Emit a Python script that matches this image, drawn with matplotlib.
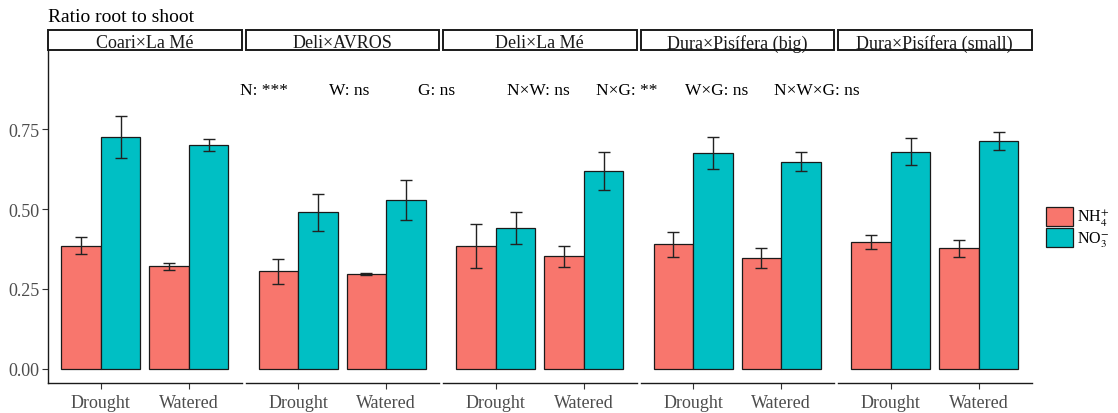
import matplotlib
matplotlib.use("Agg")
import matplotlib.pyplot as plt
from matplotlib.patches import Rectangle, Patch
import numpy as np

plt.rcParams['font.family'] = ['Liberation Serif', 'DejaVu Serif']
plt.rcParams['mathtext.fontset'] = 'stix'

# ---------------- data ----------------
genotypes = ["Coari×La Mé", "Deli×AVROS", "Deli×La Mé", "Dura×Pisífera (big)", "Dura×Pisífera (small)"]
conditions = ["Drought", "Watered"]
nh4_mean = [[0.385, 0.321], [0.306, 0.296], [0.385, 0.353], [0.390, 0.348], [0.396, 0.377]]
nh4_err = [[0.027, 0.011], [0.039, 0.003], [0.070, 0.033], [0.039, 0.031], [0.022, 0.028]]
no3_mean = [[0.726, 0.700], [0.490, 0.530], [0.440, 0.620], [0.676, 0.649], [0.680, 0.715]]
no3_err = [[0.065, 0.019], [0.057, 0.063], [0.050, 0.060], [0.050, 0.030], [0.043, 0.028]]
y_ticks = [0.00, 0.25, 0.50, 0.75]
stats_labels = ["N: ***", "W: ns", "G: ns", "N×W: ns", "N×G: **", "W×G: ns", "N×W×G: ns"]
series_labels = [r"NH$_4^{+}$", r"NO$_3^{-}$"]
title = "Ratio root to shoot"

# ---------------- style ----------------
W, H = 1118, 414
col_nh4 = "#F8766D"
col_no3 = "#00BFC4"
tick_col = "#4D4D4D"

fig = plt.figure(figsize=(W / 100, H / 100), dpi=100)

def fx(px):
    return px / W

def fy(py):
    return 1 - py / H

pan_w = 193.5
pan_step = 197.5
pan_left0 = 48
pan_top, pan_bot = 51, 384
strip_top = 31

x = np.arange(1, len(conditions) + 1)
bw = 0.45

for i, g in enumerate(genotypes):
    left = pan_left0 + i * pan_step
    ax = fig.add_axes([fx(left), fy(pan_bot), fx(pan_w), (pan_bot - pan_top) / H])
    ax.bar(x - bw / 2, nh4_mean[i], width=bw, color=col_nh4, edgecolor="#1a1a1a", linewidth=0.9, zorder=2)
    ax.bar(x + bw / 2, no3_mean[i], width=bw, color=col_no3, edgecolor="#1a1a1a", linewidth=0.9, zorder=2)
    ax.errorbar(x - bw / 2, nh4_mean[i], yerr=nh4_err[i], fmt='none', ecolor="#222222",
                elinewidth=1.0, capsize=4.3, capthick=1.0, zorder=3)
    ax.errorbar(x + bw / 2, no3_mean[i], yerr=no3_err[i], fmt='none', ecolor="#222222",
                elinewidth=1.0, capsize=4.3, capthick=1.0, zorder=3)
    ax.set_xlim(0.4, 2.6)
    ax.set_ylim(-0.0448, 0.999)
    ax.set_xticks(x)
    ax.set_xticklabels(conditions, fontsize=13, color=tick_col)
    for s in ["top", "right"]:
        ax.spines[s].set_visible(False)
    ax.spines["bottom"].set_linewidth(1.0)
    ax.spines["bottom"].set_color("#1a1a1a")
    ax.tick_params(axis='x', length=4, width=0.8, color="#333333", pad=4)
    if i == 0:
        ax.set_yticks(y_ticks)
        ax.set_yticklabels([f"{v:.2f}" for v in y_ticks], fontsize=13, color=tick_col)
        ax.tick_params(axis='y', length=4, width=0.8, color="#333333", pad=2)
        ax.spines["left"].set_linewidth(1.0)
        ax.spines["left"].set_color("#1a1a1a")
    else:
        ax.spines["left"].set_visible(False)
        ax.set_yticks([])
    # strip
    fig.patches.append(Rectangle((fx(left), fy(pan_top)), fx(pan_w), (pan_top - strip_top) / H,
                                 transform=fig.transFigure, facecolor="white", edgecolor="#1a1a1a",
                                 linewidth=1.4, zorder=5))
    fig.text(fx(left + pan_w / 2), fy(44), g, ha="center", va="center", fontsize=13,
             color="#1a1a1a", zorder=6)

# title
fig.text(fx(48), fy(17), title, ha="left", va="center", fontsize=14, color="black")

# stats annotations
for k, lab in enumerate(stats_labels):
    fig.text(fx(240 + k * 89), fy(91), lab, ha="left", va="center", fontsize=12.5, color="black")

# legend
handles = [Patch(facecolor=col_nh4, edgecolor="#1a1a1a", linewidth=0.9),
           Patch(facecolor=col_no3, edgecolor="#1a1a1a", linewidth=0.9)]
fig.legend(handles, series_labels, loc="center left", bbox_to_anchor=(fx(1046), fy(229)),
           frameon=False, fontsize=11.5, handlelength=1.7, handleheight=1.45,
           labelspacing=0.0, handletextpad=0.25, borderaxespad=0, borderpad=0)

fig.savefig("out.png", dpi=100)
